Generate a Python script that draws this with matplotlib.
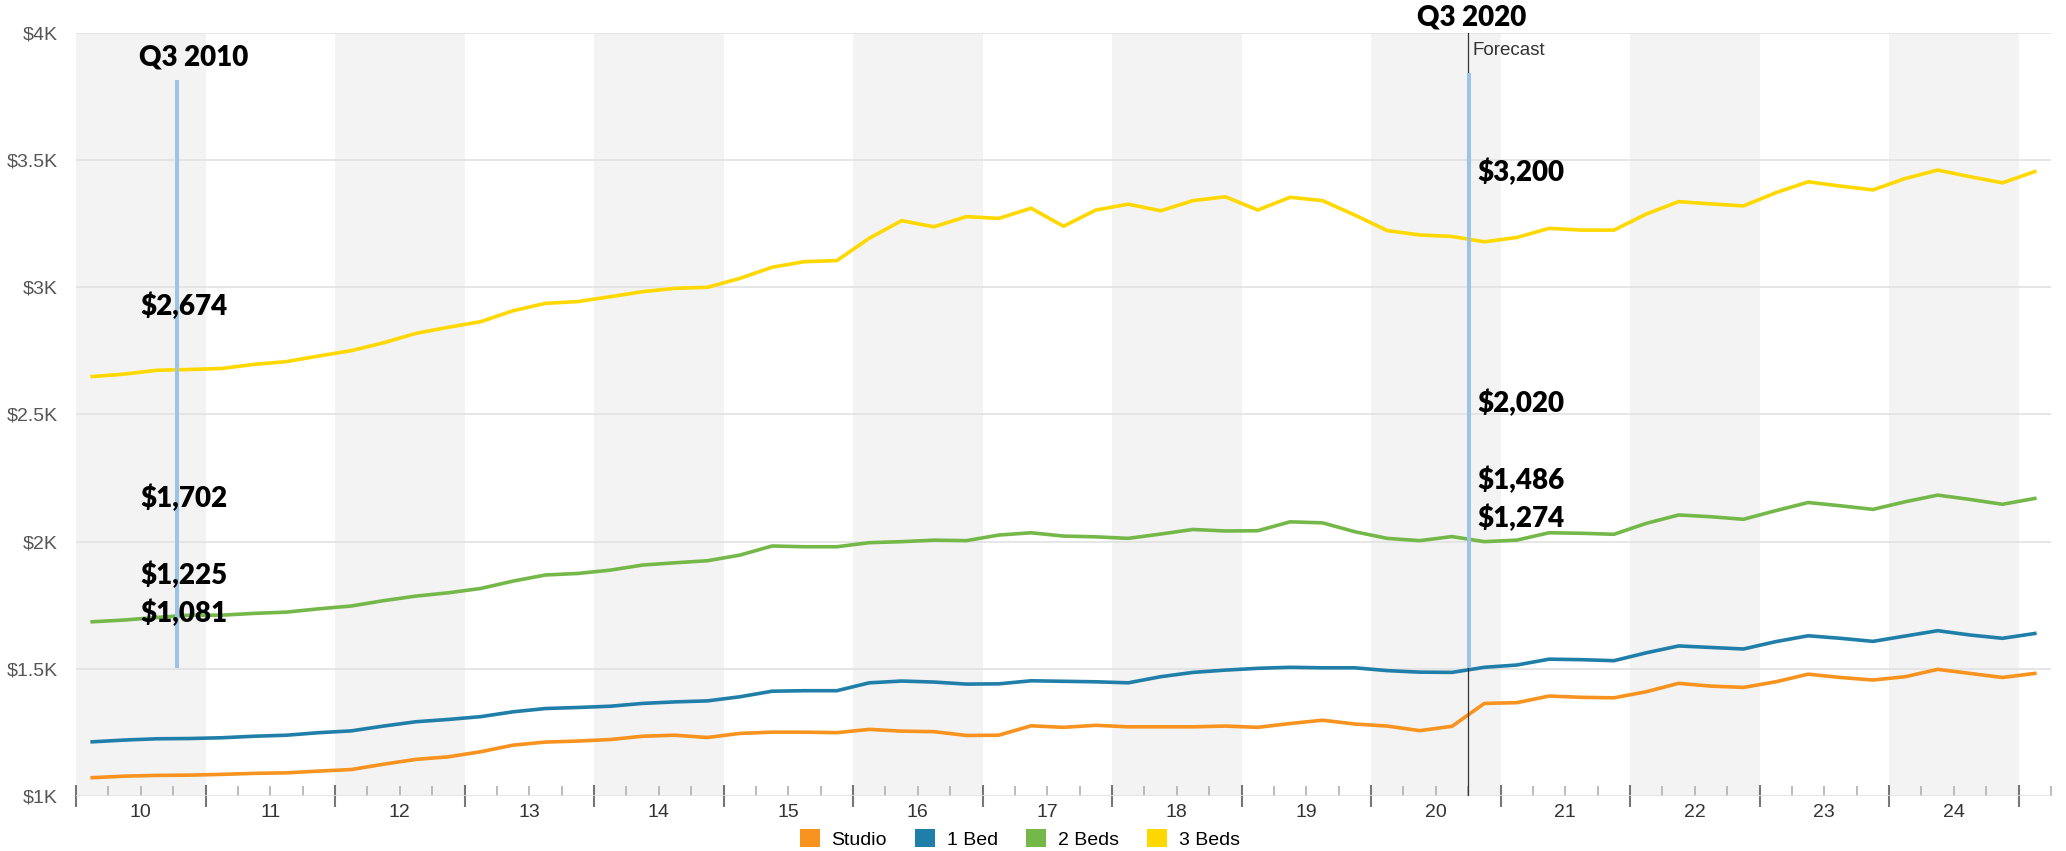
import numpy as np
import matplotlib.pyplot as plt
from matplotlib.patches import Patch
from matplotlib.transforms import blended_transform_factory

plt.rcParams['font.family'] = ['Liberation Sans', 'DejaVu Sans']

# Average asking rent per quarter, Q1 2010 .. Q1 2025 (forecast after Q3 2020)
studio = [1072, 1078, 1081, 1082, 1085, 1089, 1091, 1098, 1104, 1125,
          1144, 1154, 1174, 1200, 1212, 1216, 1222, 1235, 1239, 1230,
          1246, 1251, 1251, 1249, 1262, 1255, 1253, 1238, 1239, 1276,
          1270, 1278, 1272, 1272, 1272, 1275, 1270, 1285, 1298, 1283,
          1275, 1257, 1274, 1364, 1367, 1393, 1388, 1386, 1410, 1443,
          1432, 1427, 1449, 1479, 1466, 1456, 1469, 1498, 1482, 1466, 1482]
one_bed = [1213, 1220, 1225, 1226, 1229, 1235, 1239, 1249, 1256, 1275,
           1292, 1301, 1312, 1331, 1344, 1348, 1353, 1364, 1370, 1374,
           1390, 1412, 1414, 1414, 1445, 1452, 1448, 1440, 1441, 1453,
           1451, 1449, 1445, 1469, 1486, 1495, 1502, 1506, 1504, 1504,
           1493, 1487, 1486, 1506, 1515, 1538, 1536, 1532, 1563, 1590,
           1584, 1578, 1607, 1630, 1620, 1608, 1629, 1650, 1633, 1620, 1639]
two_beds = [1685, 1692, 1702, 1711, 1711, 1718, 1723, 1736, 1747, 1768,
            1786, 1799, 1816, 1845, 1869, 1875, 1888, 1908, 1917, 1925,
            1947, 1983, 1980, 1980, 1996, 2000, 2006, 2004, 2026, 2035,
            2022, 2019, 2013, 2030, 2048, 2042, 2043, 2078, 2074, 2039,
            2013, 2004, 2020, 2000, 2006, 2035, 2033, 2029, 2072, 2105,
            2098, 2088, 2122, 2154, 2141, 2127, 2157, 2183, 2166, 2147, 2170]
three_beds = [2649, 2659, 2674, 2677, 2681, 2697, 2708, 2730, 2751, 2782,
              2819, 2843, 2865, 2908, 2937, 2944, 2963, 2983, 2996, 3000,
              3035, 3079, 3101, 3105, 3193, 3262, 3238, 3278, 3271, 3311,
              3240, 3304, 3327, 3301, 3341, 3356, 3304, 3354, 3341, 3284,
              3223, 3206, 3200, 3179, 3196, 3232, 3225, 3225, 3288, 3337,
              3328, 3320, 3372, 3415, 3398, 3383, 3428, 3461, 3435, 3411, 3455]

series_names = ['Studio', '1 Bed', '2 Beds', '3 Beds']
series_colors = ['#f7931e', '#1f7fa8', '#74b84a', '#ffd800']

# call-out values (3 beds, 2 beds, 1 bed, studio)
q3_2010_values = [2674, 1702, 1225, 1081]
q3_2020_values = [3200, 2020, 1486, 1274]
Q3_2010_IDX = 2
Q3_2020_IDX = 42

series = [studio, one_bed, two_beds, three_beds]
for s, v10, v20 in zip(series[::-1], q3_2010_values, q3_2020_values):
    s[Q3_2010_IDX] = v10
    s[Q3_2020_IDX] = v20

quarters = 2010.125 + 0.25 * np.arange(len(studio))

W, H = 2066, 851
fig = plt.figure(figsize=(W / 100, H / 100), dpi=100)
ax = fig.add_axes([76 / W, 1 - 796 / H, 1975 / W, 763 / H])
ax.set_xlim(2010, 2025.25)
ax.set_ylim(1000, 4000)

# alternating year bands
for yr in range(2010, 2026, 2):
    ax.axvspan(yr, yr + 1, color='#f3f3f3', lw=0, zorder=0)

ax.set_yticks(np.arange(1000, 4001, 500))
ax.set_yticklabels([r'\$1K', r'\$1.5K', r'\$2K', r'\$2.5K', r'\$3K', r'\$3.5K', r'\$4K'])
ax.yaxis.grid(True, color='#e2e2e2', lw=1.2)
ax.set_axisbelow(True)
ax.tick_params(axis='y', length=0, pad=13, labelsize=14, labelcolor='#555555')

ax.set_xticks(range(2010, 2026))
ax.set_xticklabels([])
ax.set_xticks([q for q in np.arange(2010, 2025.3, 0.25) if q % 1 != 0], minor=True)
ax.tick_params(axis='x', which='major', direction='inout', length=16, width=1.5, color='#777777')
ax.tick_params(axis='x', which='minor', direction='in', length=7, width=1.2, color='#b0b0b0')
for sp in ax.spines.values():
    sp.set_visible(False)

trans = blended_transform_factory(ax.transData, ax.transAxes)
for yr in range(2010, 2025):
    ax.text(yr + 0.5, -0.022, str(yr)[2:], transform=trans, ha='center', va='center',
            fontsize=14, color='#333333')

for s, name, color in zip(series, series_names, series_colors):
    ax.plot(quarters, s, color=color, lw=2.6, label=name, zorder=3)

# forecast divider
ax.axvline(2020.745, color='#333333', lw=0.9, zorder=4)
ax.text(2020.78, 3933, 'Forecast', fontsize=13.5, color='#333333', va='center', ha='left')

# call-outs
bold = dict(family=['Lato', 'DejaVu Sans'], weight='heavy', color='black', fontsize=20)
ax.plot([2010.78, 2010.78], [1505, 3815], color='#9dc3e6', lw=2.9, solid_capstyle='butt', zorder=5)
ax.plot([2020.755, 2020.755], [1505, 3843], color='#9dc3e6', lw=2.9, solid_capstyle='butt', zorder=5)
ax.text(2010.486, 3902, 'Q3 2010', va='center', ha='left', zorder=6, **bold)
ax.text(2020.355, 4059, 'Q3 2020', va='center', ha='left', zorder=6, clip_on=False, **bold)

for v, y in zip(q3_2010_values, [2923, 2171, 1869, 1719]):
    ax.text(2010.50, y, f'\\${v:,}', va='center', ha='left', zorder=6, **bold)
for v, y in zip(q3_2020_values, [3453, 2545, 2242, 2093]):
    ax.text(2020.82, y, f'\\${v:,}', va='center', ha='left', zorder=6, **bold)

handles = [Patch(facecolor=c, edgecolor='none', label=n) for n, c in zip(series_names, series_colors)]
fig.legend(handles=handles, loc='center', bbox_to_anchor=(0.4935, 0.0141), ncol=4, frameon=False,
           fontsize=14, handlelength=1.03, handleheight=1.0, handletextpad=0.6, columnspacing=1.45,
           borderpad=0.1)

fig.savefig('out.png', dpi=100)
